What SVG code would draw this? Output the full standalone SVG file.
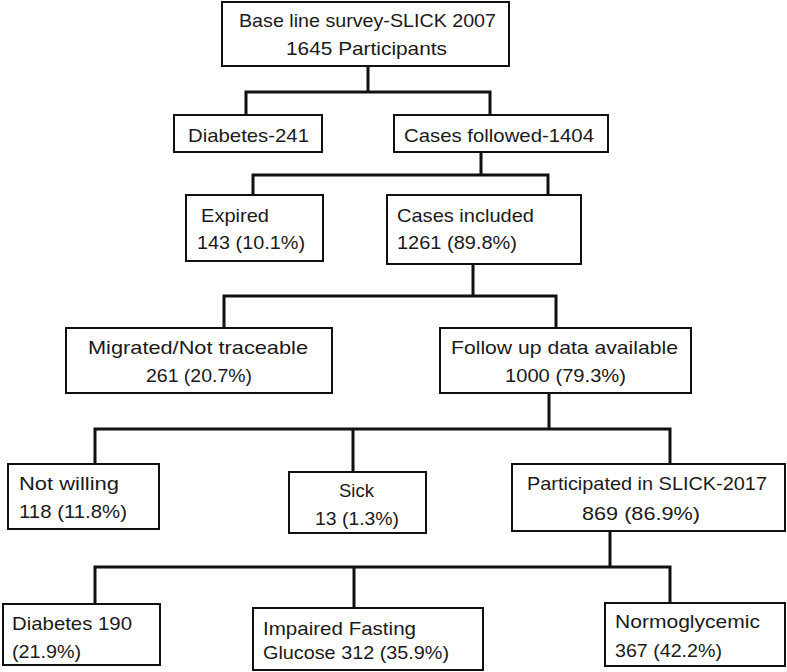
<svg xmlns="http://www.w3.org/2000/svg" width="787" height="672" viewBox="0 0 787 672">
<style>
.box{fill:#fff;stroke:#111;stroke-width:2}
.c{fill:none;stroke:#111;stroke-width:3;stroke-linejoin:miter;stroke-linecap:square}
text{font-family:"Liberation Sans",Arial,sans-serif;font-size:19px;fill:#1a1a1a}
</style>
<rect width="787" height="672" fill="#fff"/>
<g id="connectors">
<path class="c" d="M368 66 V92 M246 115 V92 H490 V115"/>
<path class="c" d="M481 152 V175 M253 195 V175 H548 V195"/>
<path class="c" d="M473 264 V296 M224 328 V296 H556 V328"/>
<path class="c" d="M549 393 V429 M95 464 V429 H670 V464 M353 429 V472"/>
<path class="c" d="M610 531 V567 M95 604 V567 H670 V603 M354 567 V608"/>
</g>
<g id="baseline">
<rect class="box" x="222" y="2" width="287" height="64"/>
<text x="239" y="27" textLength="257" lengthAdjust="spacingAndGlyphs">Base line survey-SLICK 2007</text>
<text x="286" y="55" textLength="161" lengthAdjust="spacingAndGlyphs">1645 Participants</text>
</g>
<g id="diabetes241">
<rect class="box" x="174" y="115" width="148" height="37"/>
<text x="188" y="142" textLength="121" lengthAdjust="spacingAndGlyphs">Diabetes-241</text>
</g>
<g id="casesFollowed">
<rect class="box" x="394" y="115" width="214" height="37"/>
<text x="404" y="142" textLength="190" lengthAdjust="spacingAndGlyphs">Cases followed-1404</text>
</g>
<g id="expired">
<rect class="box" x="186" y="195" width="137" height="66"/>
<text x="201" y="222" textLength="68" lengthAdjust="spacingAndGlyphs">Expired</text>
<text x="197" y="249" textLength="108" lengthAdjust="spacingAndGlyphs">143 (10.1%)</text>
</g>
<g id="casesIncluded">
<rect class="box" x="387" y="195" width="194" height="69"/>
<text x="397" y="222" textLength="137" lengthAdjust="spacingAndGlyphs">Cases included</text>
<text x="397" y="249" textLength="120" lengthAdjust="spacingAndGlyphs">1261 (89.8%)</text>
</g>
<g id="migrated">
<rect class="box" x="66" y="328" width="266" height="65"/>
<text x="88" y="354" textLength="220" lengthAdjust="spacingAndGlyphs">Migrated/Not traceable</text>
<text x="146" y="382" textLength="106" lengthAdjust="spacingAndGlyphs">261 (20.7%)</text>
</g>
<g id="followUp">
<rect class="box" x="440" y="328" width="251" height="65"/>
<text x="451" y="354" textLength="227" lengthAdjust="spacingAndGlyphs">Follow up data available</text>
<text x="505" y="382" textLength="121" lengthAdjust="spacingAndGlyphs">1000 (79.3%)</text>
</g>
<g id="notWilling">
<rect class="box" x="8" y="464" width="151" height="65"/>
<text x="19" y="490" textLength="100" lengthAdjust="spacingAndGlyphs">Not willing</text>
<text x="19" y="518" textLength="108" lengthAdjust="spacingAndGlyphs">118 (11.8%)</text>
</g>
<g id="sick">
<rect class="box" x="289" y="472" width="137" height="61"/>
<text x="339" y="497" textLength="35" lengthAdjust="spacingAndGlyphs">Sick</text>
<text x="315" y="525" textLength="84" lengthAdjust="spacingAndGlyphs">13 (1.3%)</text>
</g>
<g id="participated">
<rect class="box" x="512" y="464" width="273" height="67"/>
<text x="527" y="490" textLength="240" lengthAdjust="spacingAndGlyphs">Participated in SLICK-2017</text>
<text x="582" y="520" textLength="118" lengthAdjust="spacingAndGlyphs">869 (86.9%)</text>
</g>
<g id="diabetes190">
<rect class="box" x="3" y="604" width="157" height="61"/>
<text x="12" y="630" textLength="120" lengthAdjust="spacingAndGlyphs">Diabetes 190</text>
<text x="12" y="658" textLength="69" lengthAdjust="spacingAndGlyphs">(21.9%)</text>
</g>
<g id="impaired">
<rect class="box" x="253" y="608" width="230" height="62"/>
<text x="263" y="635" textLength="153" lengthAdjust="spacingAndGlyphs">Impaired Fasting</text>
<text x="263" y="659" textLength="186" lengthAdjust="spacingAndGlyphs">Glucose 312 (35.9%)</text>
</g>
<g id="normoglycemic">
<rect class="box" x="605" y="603" width="180" height="63"/>
<text x="615" y="628" textLength="145" lengthAdjust="spacingAndGlyphs">Normoglycemic</text>
<text x="615" y="657" textLength="107" lengthAdjust="spacingAndGlyphs">367 (42.2%)</text>
</g>
</svg>
